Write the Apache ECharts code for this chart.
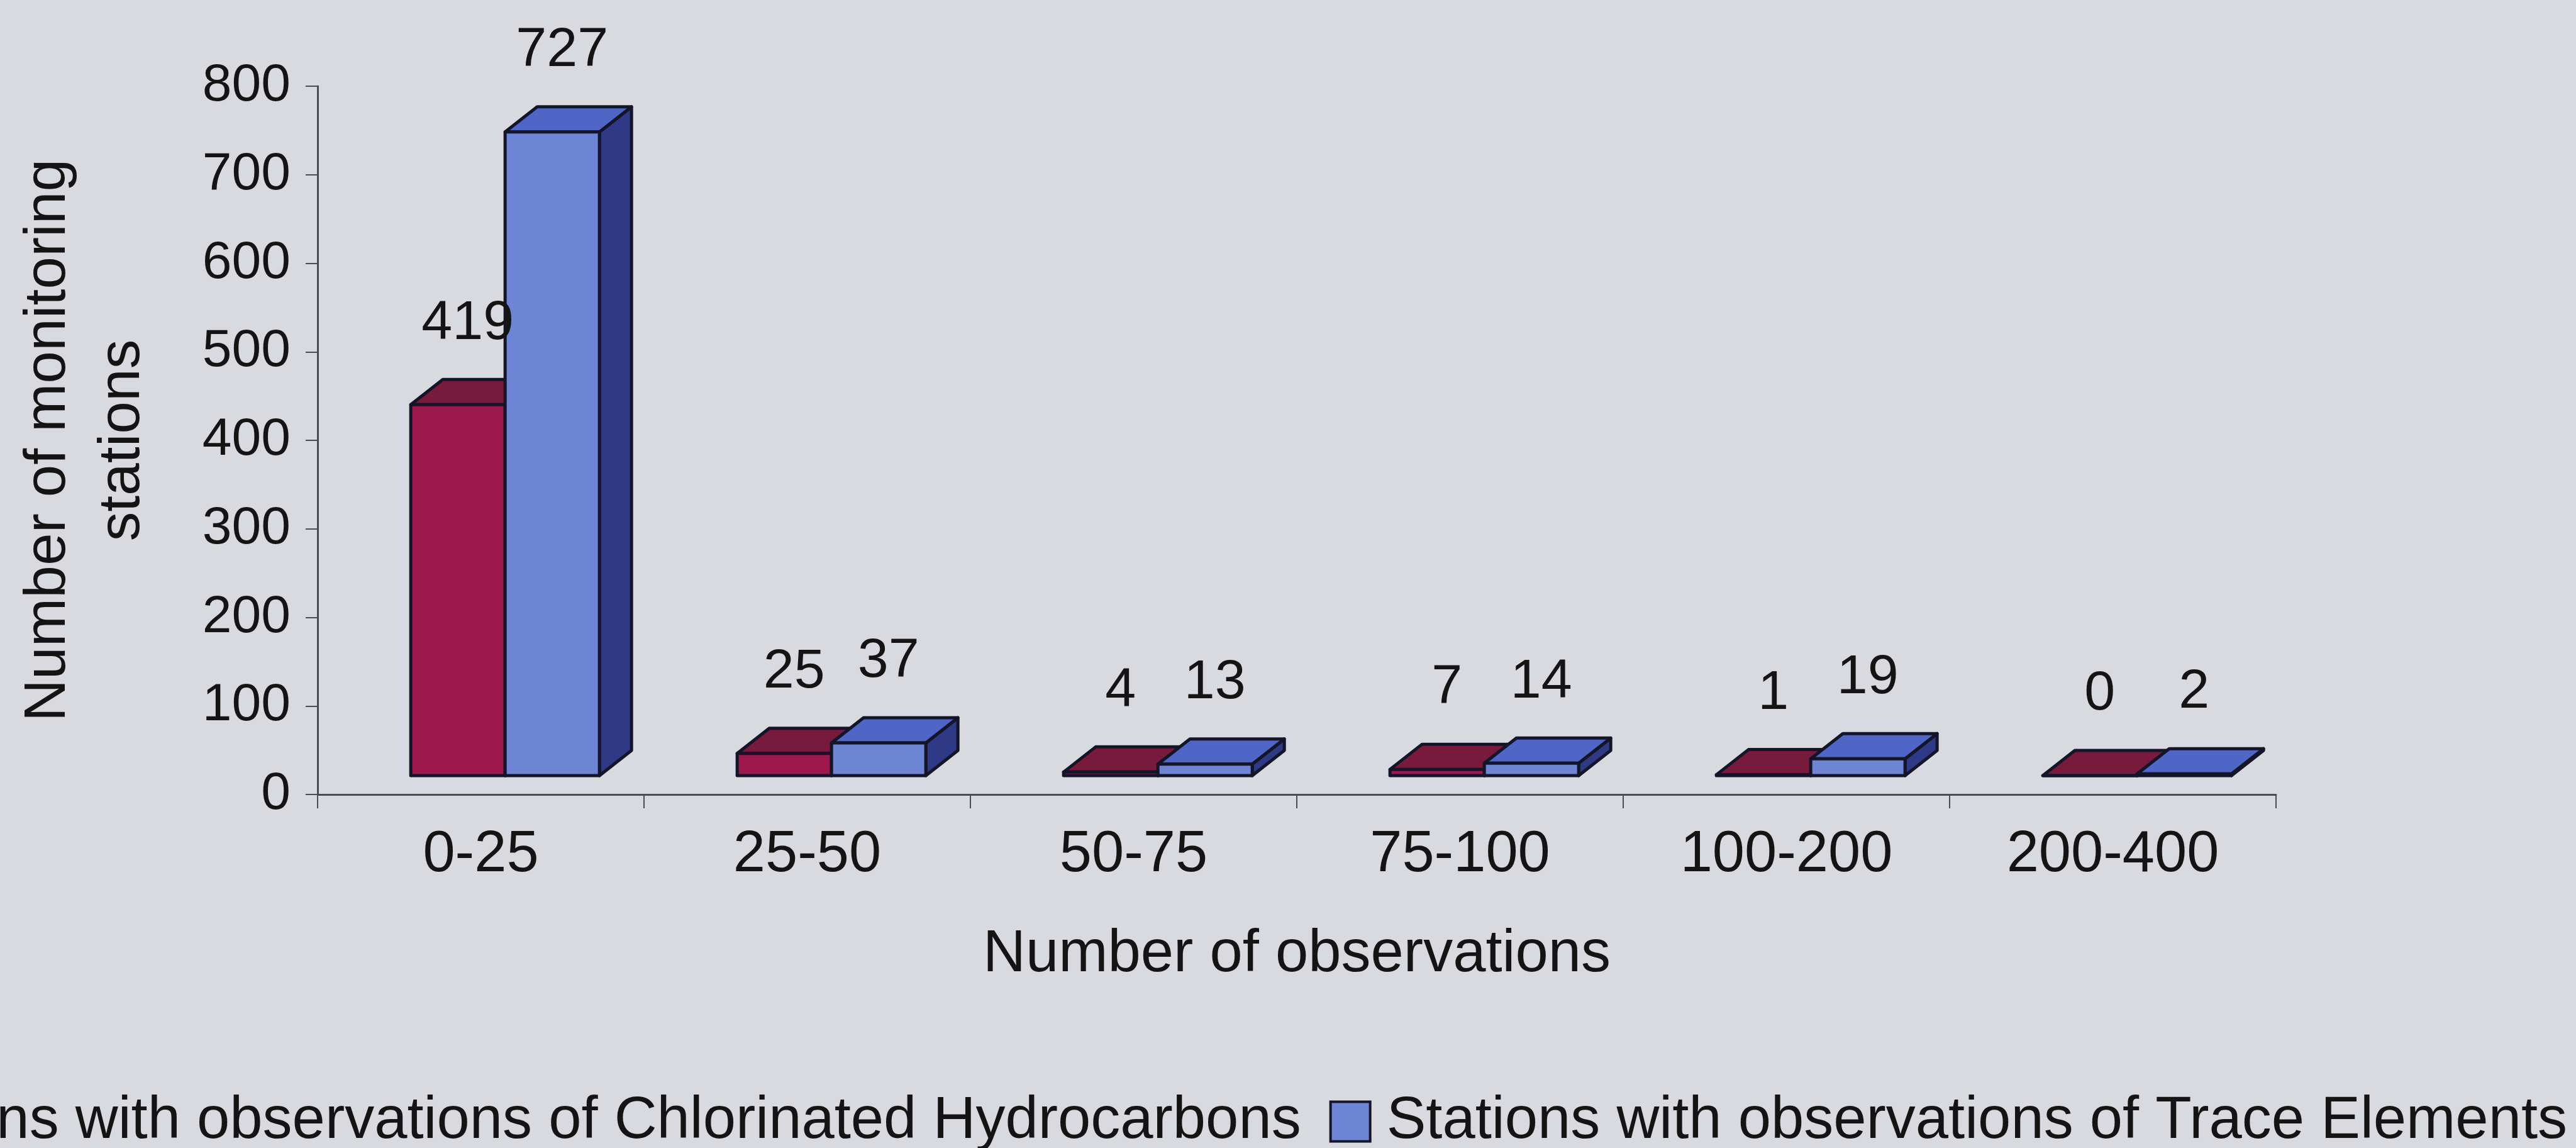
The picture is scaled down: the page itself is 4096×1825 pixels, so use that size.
<!DOCTYPE html>
<html>
<head>
<meta charset="utf-8">
<title>Monitoring stations by number of observations</title>
<style>
  html, body { margin: 0; padding: 0; background: #d9dae0; }
  #chart { width: 4096px; height: 1825px; }
</style>
<script src="https://cdn.jsdelivr.net/npm/echarts@6/dist/echarts.min.js"></script>
</head>
<body>
<div id="chart"></div>
<script>
// Observation-count classes and the number of stations in each
const categories = ['0-25', '25-50', '50-75', '75-100', '100-200', '200-400'];
const chlorinatedHydrocarbons = [419, 25, 4, 7, 1, 0];
const traceElements = [727, 37, 13, 14, 19, 2];
const seriesNames = [
  'Stations with observations of Chlorinated Hydrocarbons',
  'Stations with observations of Trace Elements'
];

const FONT = '"Liberation Sans", Arial, Helvetica, sans-serif';
const TEXT = '#141414';
const EDGE = '#15152a';

// Shading for the three visible faces of each column
const faces = [
  { front: '#9d194c', top: '#771a3c', side: '#561030' },
  { front: '#6e84d5', top: '#4f66c6', side: '#2e3a86' }
];

// Column geometry (fractions of a category band / pixel offsets for depth)
const BAR_FRAC = 0.289;
const GROUP_SHIFT = 0.0745;
const LABEL_SHIFT = 0.03;
const DEPTH_X = 51;
const DEPTH_Y = 40;
const LIFT = 30;
const LABEL_RISE = 89;

function columnRenderer(idx) {
  return function (params, api) {
    const cat = api.value(0);
    const val = api.value(1);
    const p0 = api.coord([cat, 0]);
    const p1 = api.coord([cat, val]);
    const band = api.size([1, 0])[0];
    const w = band * BAR_FRAC;
    const cx = p0[0] + band * GROUP_SHIFT;
    const xl = cx + (idx - 1) * w;
    const xr = xl + w;
    const yb = p0[1] - LIFT;
    const yt = p1[1] - LIFT;
    const c = faces[idx];
    const edge = { stroke: EDGE, lineWidth: 5, lineJoin: 'round' };
    return {
      type: 'group',
      children: [
        { type: 'polygon',
          shape: { points: [[xr, yt], [xr + DEPTH_X, yt - DEPTH_Y], [xr + DEPTH_X, yb - DEPTH_Y], [xr, yb]] },
          style: Object.assign({ fill: c.side }, edge) },
        { type: 'polygon',
          shape: { points: [[xl, yt], [xr, yt], [xr + DEPTH_X, yt - DEPTH_Y], [xl + DEPTH_X, yt - DEPTH_Y]] },
          style: Object.assign({ fill: c.top }, edge) },
        { type: 'rect',
          shape: { x: xl, y: yt, width: w, height: yb - yt },
          style: Object.assign({ fill: c.front }, edge) },
        { type: 'text', z2: 50,
          x: xl + w / 2 + band * LABEL_SHIFT,
          y: yt - DEPTH_Y - LABEL_RISE,
          style: { text: String(val), fill: TEXT, fontSize: 88, fontFamily: FONT,
                   align: 'center', verticalAlign: 'middle' } }
      ]
    };
  };
}

const chart = echarts.init(document.getElementById('chart'), null, { renderer: 'canvas' });

chart.setOption({
  animation: false,
  backgroundColor: '#d9dae0',
  grid: { left: 505, right: 477, top: 137, bottom: 562, containLabel: false },
  legend: {
    data: seriesNames,
    orient: 'horizontal',
    left: -337,
    top: 1736,
    width: 4900,
    padding: 0,
    icon: 'rect',
    itemWidth: 63,
    itemHeight: 63,
    itemGap: 45,
    itemStyle: { borderColor: EDGE, borderWidth: 4 },
    textStyle: { fontSize: 94, color: TEXT, fontFamily: FONT, padding: [0, 0, 0, 21] }
  },
  xAxis: {
    type: 'category',
    data: categories,
    boundaryGap: true,
    name: 'Number of observations',
    nameLocation: 'middle',
    nameGap: 255,
    nameTextStyle: { fontSize: 94, color: TEXT, fontFamily: FONT, verticalAlign: 'middle' },
    axisLine: { show: true, lineStyle: { color: '#4b4b52', width: 3 } },
    axisTick: { show: true, inside: false, length: 22, interval: 0, alignWithLabel: false,
                lineStyle: { color: '#4b4b52', width: 2 } },
    axisLabel: { fontSize: 92, color: TEXT, fontFamily: FONT, margin: 97,
                 verticalAlign: 'middle', interval: 0 },
    splitLine: { show: false }
  },
  yAxis: {
    type: 'value',
    min: 0,
    max: 800,
    interval: 100,
    name: 'Number of monitoring\nstations',
    nameLocation: 'middle',
    nameRotate: 90,
    nameGap: 369,
    nameTextStyle: { fontSize: 93, lineHeight: 118, color: TEXT, fontFamily: FONT,
                     align: 'center', verticalAlign: 'middle' },
    axisLine: { show: true, lineStyle: { color: '#4b4b52', width: 3 } },
    axisTick: { show: true, inside: false, length: 19, lineStyle: { color: '#4b4b52', width: 2 } },
    axisLabel: { fontSize: 84, color: TEXT, fontFamily: FONT, margin: 43 },
    splitLine: { show: false }
  },
  series: [
    {
      name: seriesNames[0],
      type: 'custom',
      renderItem: columnRenderer(0),
      itemStyle: { color: faces[0].front },
      encode: { x: 0, y: 1 },
      data: chlorinatedHydrocarbons.map((v, i) => [i, v])
    },
    {
      name: seriesNames[1],
      type: 'custom',
      renderItem: columnRenderer(1),
      itemStyle: { color: faces[1].front },
      encode: { x: 0, y: 1 },
      data: traceElements.map((v, i) => [i, v])
    }
  ]
});
</script>
</body>
</html>
